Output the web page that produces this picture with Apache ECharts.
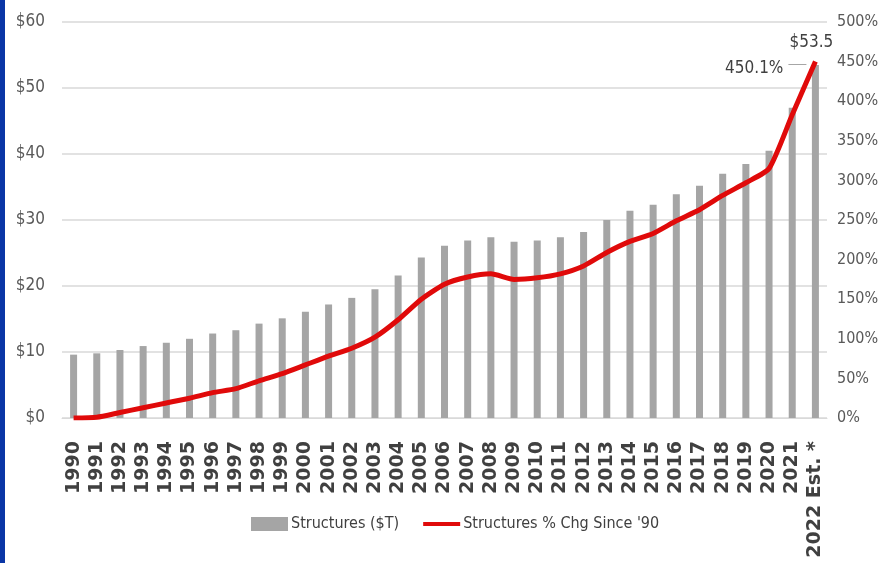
<!DOCTYPE html>
<html>
<head>
<meta charset="utf-8">
<script src="https://cdn.jsdelivr.net/npm/echarts@6/dist/echarts.min.js"></script>
<style>
  html, body { margin: 0; padding: 0; background: #fff; }
  #chart { width: 882px; height: 563px; }
  #edge { position: absolute; left: 0; top: 0; width: 5px; height: 563px; background: #0a36a6; }
</style>
</head>
<body>
<div id="chart"></div>
<div id="edge"></div>
<script>
// Categories (years)
const years = ['1990','1991','1992','1993','1994','1995','1996','1997','1998','1999',
  '2000','2001','2002','2003','2004','2005','2006','2007','2008','2009','2010',
  '2011','2012','2013','2014','2015','2016','2017','2018','2019','2020','2021','2022 Est. *'];

// Value of structures, trillions of dollars
const structures = [9.6, 9.8, 10.3, 10.9, 11.4, 12.0, 12.8, 13.3, 14.3, 15.1,
  16.1, 17.2, 18.2, 19.5, 21.6, 24.3, 26.1, 26.9, 27.4, 26.7, 26.9,
  27.4, 28.2, 30.0, 31.4, 32.3, 33.9, 35.2, 37.0, 38.5, 40.5, 47.0, 53.5];

// Percent change since 1990
const pctChange = [0, 1, 7, 13, 19, 25, 32, 37, 47, 56,
  67, 78, 88, 102, 124, 150, 169, 178, 182, 175, 177,
  182, 192, 209, 223, 233, 249, 263, 281, 297, 315, 383, 450.1];

// Axis ticks
const leftTicks = { min: 0, max: 60, interval: 10 };
const rightTicks = { min: 0, max: 500, interval: 50 };

const FONT = "'Liberation Sans Narrow', 'DejaVu Sans Condensed', 'Arial Narrow', sans-serif";
const last = years.length - 1;

const barData = structures.map((v, i) => i === last ? {
  value: v,
  label: {
    show: true, position: 'top', distance: 14, offset: [-4, 0],
    formatter: (p) => '$' + p.value, color: '#404040', fontFamily: FONT, fontSize: 17
  }
} : v);

const chart = echarts.init(document.getElementById('chart'), null, { renderer: 'canvas' });
chart.setOption({
  animation: false,
  backgroundColor: '#ffffff',
  grid: { left: 62, right: 55, top: 22, bottom: 145, containLabel: false, outerBoundsMode: 'none' },
  legend: {
    left: 246, top: 511,
    itemWidth: 37, itemHeight: 14, itemGap: 24,
    symbolKeepAspect: true,
    textStyle: { color: '#404040', fontFamily: FONT, fontSize: 16, padding: [0, 0, 0, -2] },
    data: [
      { name: 'Structures ($T)', icon: 'rect' },
      { name: "Structures % Chg Since '90", icon: 'path://M0,0 L37,0 L37,4 L0,4 Z' }
    ]
  },
  xAxis: {
    type: 'category',
    data: years,
    axisTick: { show: false },
    axisLine: { show: true, lineStyle: { color: '#d9d9d9', width: 1 } },
    axisLabel: {
      rotate: 90, interval: 0, margin: 23,
      color: '#404040', fontFamily: "'DejaVu Sans', sans-serif", fontWeight: 'bold', fontSize: 19
    }
  },
  yAxis: [
    {
      type: 'value', ...leftTicks,
      axisLine: { show: false }, axisTick: { show: false },
      splitLine: { lineStyle: { color: '#d9d9d9', width: 1.5 } },
      axisLabel: { formatter: '${value}', color: '#595959', fontFamily: FONT, fontSize: 17, margin: 17 }
    },
    {
      type: 'value', ...rightTicks,
      axisLine: { show: false }, axisTick: { show: false },
      splitLine: { show: false },
      axisLabel: { formatter: '{value}%', color: '#595959', fontFamily: FONT, fontSize: 16, margin: 10 }
    }
  ],
  series: [
    {
      name: 'Structures ($T)',
      type: 'bar',
      data: barData,
      barWidth: 7,
      itemStyle: { color: '#a5a5a5' },
      yAxisIndex: 0,
      z: 2
    },
    {
      name: "Structures % Chg Since '90",
      type: 'line',
      data: pctChange,
      yAxisIndex: 1,
      smooth: 0.2,
      symbol: 'none',
      showSymbol: false,
      lineStyle: { color: '#e00a0a', width: 5 },
      itemStyle: { color: '#e00a0a' },
      // value of the final point, with a short leader toward it
      endLabel: {
        show: true,
        align: 'right',
        distance: 0,
        offset: [-9, 3],
        formatter: (p) => '{t|' + p.value + '%}{g|}',
        rich: {
          t: { color: '#404040', fontFamily: FONT, fontSize: 17, padding: [8, 5, 0, 0] },
          g: { width: 18, height: 1, backgroundColor: '#a6a6a6' }
        }
      },
      z: 3
    }
  ]
});
</script>
</body>
</html>
